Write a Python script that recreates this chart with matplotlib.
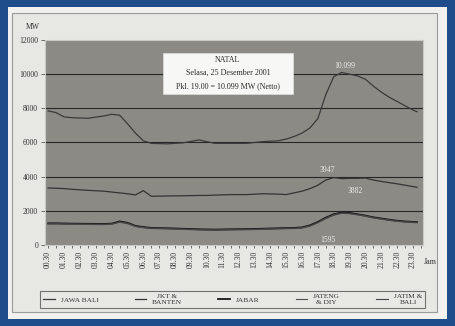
import matplotlib
matplotlib.use("Agg")
import matplotlib.pyplot as plt
from matplotlib.patches import Rectangle

# time of day in hours, values in MW
hours = [0.5, 1, 1.5, 2, 3, 4, 4.5, 5, 5.5, 6, 6.5, 7, 8, 9, 10, 10.5, 11, 12, 13,
         14, 15, 15.5, 16, 16.5, 17, 17.5, 18, 18.5, 19, 19.5, 20, 20.5, 21, 21.5,
         22, 22.5, 23, 23.5, 23.75]

jawa_bali = [7850, 7750, 7500, 7450, 7420, 7550, 7650, 7600, 7100, 6550, 6100, 5950,
             5920, 5980, 6150, 6050, 5950, 5950, 5950, 6050, 6100, 6200, 6350, 6550,
             6850, 7400, 8800, 9850, 10099, 10000, 9900, 9700, 9300, 8950, 8650, 8400,
             8150, 7900, 7800]
jkt_banten = [3340, 3320, 3300, 3260, 3200, 3150, 3100, 3050, 3000, 2930, 3180, 2850,
              2870, 2880, 2900, 2900, 2920, 2950, 2950, 3000, 2980, 2950, 3050, 3150,
              3300, 3500, 3800, 3947, 3882, 3900, 3900, 3920, 3800, 3720, 3650, 3580,
              3500, 3420, 3380]
jabar = [1270, 1270, 1260, 1250, 1240, 1230, 1250, 1380, 1300, 1120, 1050, 1000, 980,
         950, 920, 910, 900, 920, 930, 950, 980, 990, 1000, 1030, 1150, 1350, 1600,
         1800, 1900, 1880, 1800, 1720, 1620, 1550, 1480, 1420, 1380, 1350, 1340]
jateng_diy = [1230, 1230, 1220, 1210, 1200, 1190, 1210, 1330, 1250, 1080, 1010, 960,
              940, 910, 880, 870, 860, 880, 890, 910, 940, 950, 960, 990, 1100, 1300,
              1540, 1740, 1850, 1830, 1760, 1680, 1580, 1510, 1440, 1380, 1340, 1310, 1300]
jatim_bali = [1250, 1250, 1240, 1230, 1220, 1210, 1230, 1350, 1270, 1100, 1030, 980,
              960, 930, 900, 890, 880, 900, 910, 930, 960, 970, 980, 1010, 1120, 1320,
              1570, 1770, 1870, 1850, 1780, 1700, 1600, 1530, 1460, 1400, 1360, 1330, 1320]

series = [("JAWA BALI", jawa_bali), ("JKT &\nBANTEN", jkt_banten), ("JABAR", jabar),
          ("JATENG\n& DIY", jateng_diy), ("JATIM &\nBALI", jatim_bali)]
line_colors = ["#3a3a3a", "#333333", "#161616", "#505050", "#444444"]
line_widths = [0.9, 0.9, 1.3, 0.8, 0.8]

tick_hours = [h + 0.5 for h in range(24)]
tick_labels = [f"{h:02d}.30" for h in range(24)]
y_ticks = [0, 2000, 4000, 6000, 8000, 10000, 12000]

# value labels: (text, hour, MW)
value_labels = [("10.099", 19.2, 10480), ("3947", 18.1, 4390),
                ("3882", 19.85, 3160), ("1595", 18.15, 300)]

plt.rcParams["font.family"] = ["Liberation Serif", "DejaVu Serif"]

fig = plt.figure(figsize=(4.56, 3.26), dpi=100)
fig.patch.set_facecolor("#1f4c8a")

# paper and chart frame
fig.patches.append(Rectangle((0.0175, 0.0215), 0.963, 0.957, transform=fig.transFigure,
                             facecolor="#f1f1ef", edgecolor="none", zorder=-2))
fig.patches.append(Rectangle((0.026, 0.043), 0.932, 0.917, transform=fig.transFigure,
                             facecolor="#e7e7e4", edgecolor="#9a9a98", lw=0.8, zorder=-1))

ax = fig.add_axes([0.0987, 0.2485, 0.829, 0.6288])
ax.set_zorder(1)
ax.set_facecolor("#8b8a84")

for (name, vals), c, lw in zip(series, line_colors, line_widths):
    ax.plot(hours, vals, color=c, lw=lw, label=name, zorder=3)

for y in y_ticks[1:-1]:
    ax.axhline(y, color="#262626", lw=0.8, zorder=2)

ax.set_xlim(0.3, 24.13)
ax.set_ylim(0, 12000)
ax.set_yticks(y_ticks)
ax.set_yticklabels([str(v) for v in y_ticks], fontsize=5.5, color="#333333")
ax.set_xticks(tick_hours)
ax.set_xticklabels(tick_labels, rotation=90, fontsize=5.5, color="#333333")
ax.set_xticks([h / 2 for h in range(1, 49)], minor=True)
ax.tick_params(axis="x", which="both", length=2.5, width=0.6, color="#555555", pad=2)
ax.tick_params(axis="y", length=3, width=0.6, color="#555555", pad=2)
for side, sp in ax.spines.items():
    sp.set_color("#c9c9c6")
    sp.set_linewidth(0.8)

for txt, hx, vy in value_labels:
    ax.text(hx, vy, txt, fontsize=5.5, color="#ececec", ha="center", va="center", zorder=4)

# title box
ax.add_patch(Rectangle((0.312, 0.737), 0.344, 0.2, transform=ax.transAxes,
                       facecolor="#f7f7f5", edgecolor="#dddddd", lw=0.5, zorder=5))
box_lines = ["NATAL", "Selasa, 25 Desember 2001", "Pkl. 19.00 = 10.099 MW (Netto)"]
for i, line in enumerate(box_lines):
    ax.text(0.484, 0.902 - i * 0.063, line, transform=ax.transAxes, fontsize=5.8,
            ha="center", va="center", color="#2a2a2a", zorder=6)

fig.text(33 / 456, 1 - 27 / 326, "MW", fontsize=5.5, ha="center", va="center",
         color="#333333")
fig.text(430 / 456, 1 - 262 / 326, "Jam", fontsize=5.8, ha="center", va="center",
         color="#333333")

leg = fig.legend(loc="lower left", bbox_to_anchor=(40 / 456, 1 - 308 / 326, 385 / 456, 25 / 326),
                 ncol=5, mode="expand", fontsize=5.3, frameon=True, handlelength=1.6,
                 handletextpad=0.8, borderaxespad=0, fancybox=False)
leg.get_frame().set_facecolor("#e9e9e6")
leg.get_frame().set_edgecolor("#555555")
leg.get_frame().set_linewidth(0.8)
for t in leg.get_texts():
    t.set_color("#333333")
    t.set_multialignment("center")

fig.savefig("out.png", dpi=100, facecolor=fig.get_facecolor())
